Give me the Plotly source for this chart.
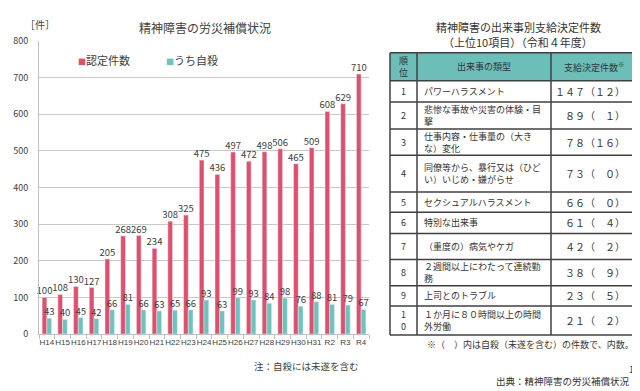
import plotly.graph_objects as go

years = ["H14","H15","H16","H17","H18","H19","H20","H21","H22","H23","H24",
         "H25","H26","H27","H28","H29","H30","H31","R2","R3","R4"]
approved = [100,108,130,127,205,268,269,234,308,325,475,436,497,472,498,506,465,509,608,629,710]
suicide = [43,40,45,42,66,81,66,63,65,66,93,63,99,93,84,98,76,88,81,79,67]
series_names = ["認定件数", "うち自殺"]

table_header = ["順<br>位", "出来事の類型", "支給決定件数<sup>※</sup>"]
rank = ["1","2","3","4","5","6","7","8","9","1<br>0"]
event_types = [
    "パワーハラスメント",
    "悲惨な事故や災害の体験・目<br>撃",
    "仕事内容・仕事量の（大き<br>な）変化",
    "同僚等から、暴行又は（ひど<br>い）いじめ・嫌がらせ",
    "セクシュアルハラスメント",
    "特別な出来事",
    "（重度の）病気やケガ",
    "２週間以上にわたって連続勤<br>務",
    "上司とのトラブル",
    "１か月に８０時間以上の時間<br>外労働",
]
counts = ["１４７（１２）","８９（　１）","７８（１６）","７３（　０）","６６（　０）",
          "６１（　４）","４２（　２）","３８（　９）","２３（　５）","２１（　２）"]

PINK = "#e0506e"
TEAL = "#6cc2bc"
HEAD = "#6cbfb9"
LINE = "#404040"
FONT = "Noto Sans CJK JP"
W, H = 640, 391

# table layout (pixel positions)
COL_X = [382, 409, 543, 628]
ROW_Y = [39, 68, 90, 118, 145, 183, 204, 226, 253, 280, 301, 331]


def px_x(x):
    return x / W


def px_y(y):
    return 1 - y / H


fig = go.Figure()
fig.add_trace(go.Bar(x=years, y=approved, name=series_names[0], marker_color=PINK,
                     text=approved, textposition="outside", constraintext="none",
                     cliponaxis=False, textfont=dict(size=9.5, color="#404040", family=FONT)))
fig.add_trace(go.Bar(x=years, y=suicide, name=series_names[1], marker_color=TEAL,
                     text=suicide, textposition="outside", constraintext="none",
                     cliponaxis=False, textfont=dict(size=9.5, color="#404040", family=FONT)))

fig.update_layout(
    width=W, height=H,
    margin=dict(l=0, r=0, t=0, b=0),
    paper_bgcolor="white", plot_bgcolor="white",
    barmode="group", bargap=0.4, bargroupgap=0,
    showlegend=False,
    font=dict(family=FONT, color="#404040"),
    xaxis=dict(domain=[px_x(31), px_x(361)], showline=True, linecolor="#bfbfbf",
               ticks="outside", tickson="boundaries", ticklen=4, tickcolor="#bfbfbf",
               tickangle=0, tickfont=dict(size=8, color="#404040", family="Liberation Sans"),
               fixedrange=True),
    yaxis=dict(domain=[px_y(330), px_y(27)], range=[0, 800], dtick=100,
               showline=True, linecolor="#bfbfbf", showgrid=True, gridcolor="#c8c8c8",
               tickfont=dict(size=9, color="#404040"), zeroline=False, ticks="",
               ticklabelstandoff=8),
)

shapes = []
# header fill
shapes.append(dict(type="rect", xref="paper", yref="paper",
                   x0=px_x(COL_X[0]), x1=px_x(COL_X[-1]), y0=px_y(ROW_Y[1]), y1=px_y(ROW_Y[0]),
                   fillcolor=HEAD, line=dict(width=0), layer="below"))
# horizontal lines
for y in ROW_Y:
    shapes.append(dict(type="line", xref="paper", yref="paper",
                       x0=px_x(COL_X[0]), x1=px_x(COL_X[-1]), y0=px_y(y), y1=px_y(y),
                       line=dict(color=LINE, width=1.5)))
# vertical lines
for x in COL_X:
    shapes.append(dict(type="line", xref="paper", yref="paper",
                       x0=px_x(x), x1=px_x(x), y0=px_y(ROW_Y[0]), y1=px_y(ROW_Y[-1]),
                       line=dict(color=LINE, width=1.5)))
fig.update_layout(shapes=shapes)

ann = [
    dict(x=px_x(197), y=px_y(13), text="精神障害の労災補償状況", font=dict(size=12, color="#404040")),
    dict(x=px_x(32), y=px_y(10), text="［件］", font=dict(size=10, color="#404040")),
    dict(x=px_x(68), y=px_y(47), xanchor="left",
         text=f"<span style='color:{PINK};font-size:8px'>■</span>{series_names[0]}",
         font=dict(size=11, color="#404040")),
    dict(x=px_x(156), y=px_y(47), xanchor="left",
         text=f"<span style='color:{TEAL};font-size:8px'>■</span>{series_names[1]}",
         font=dict(size=11, color="#404040")),
    dict(x=px_x(353), y=px_y(363), xanchor="right", text="注：自殺には未遂を含む",
         font=dict(size=9.5, color="#404040")),
    dict(x=px_x(510), y=px_y(12), text="精神障害の出来事別支給決定件数",
         font=dict(size=11, color="#333333")),
    dict(x=px_x(510), y=px_y(28), text="（上位10項目）（令和４年度）",
         font=dict(size=11, color="#333333")),
    dict(x=px_x(628), y=px_y(341), xanchor="right", text="※（　）内は自殺（未遂を含む）の件数で、内数。",
         font=dict(size=9, color="#333333")),
    dict(x=px_x(626), y=px_y(367), text="12", font=dict(size=9, color="#333333")),
    dict(x=px_x(624), y=px_y(379), xanchor="right", text="出典：精神障害の労災補償状況",
         font=dict(size=9.5, color="#333333")),
]

# header texts
hy = px_y((ROW_Y[0] + ROW_Y[1]) / 2)
ann.append(dict(x=px_x((COL_X[0] + COL_X[1]) / 2), y=hy, text=table_header[0],
                font=dict(size=9, color="#333333")))
ann.append(dict(x=px_x((COL_X[1] + COL_X[2]) / 2), y=hy, text=table_header[1],
                font=dict(size=9, color="#333333")))
ann.append(dict(x=px_x((COL_X[2] + COL_X[3]) / 2), y=hy, text=table_header[2],
                font=dict(size=9, color="#333333")))

for i in range(len(rank)):
    cy = px_y((ROW_Y[i + 1] + ROW_Y[i + 2]) / 2)
    ann.append(dict(x=px_x((COL_X[0] + COL_X[1]) / 2), y=cy, text=rank[i],
                    font=dict(size=9, color="#333333")))
    ann.append(dict(x=px_x(COL_X[1] + 5), y=cy, xanchor="left", align="left",
                    text=event_types[i], font=dict(size=9, color="#333333")))
    ann.append(dict(x=px_x(COL_X[3] - 9), y=cy, xanchor="right", align="right",
                    text=counts[i], font=dict(size=10, color="#333333")))

for a in ann:
    a.update(xref="paper", yref="paper", showarrow=False)
    a.setdefault("xanchor", "center")
    a["yanchor"] = "middle"
    a["font"]["family"] = FONT
    fig.add_annotation(**a)

fig.write_html("out.html")
